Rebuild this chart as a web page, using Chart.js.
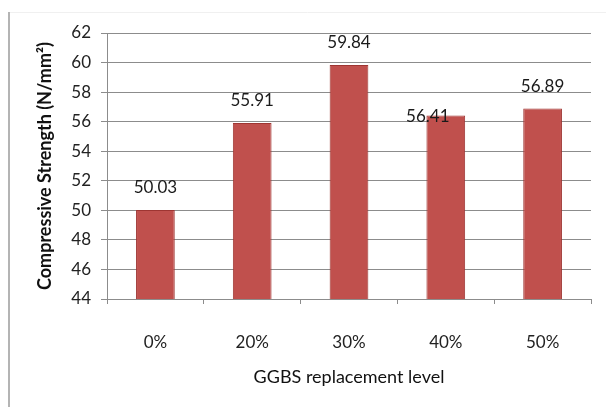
<!DOCTYPE html>
<html>
<head>
<meta charset="utf-8">
<script src="https://cdn.jsdelivr.net/npm/chart.js@4/dist/chart.umd.min.js"></script>
<style>
  html, body { margin: 0; padding: 0; background: #fff; }
  #wrap { position: relative; width: 606px; height: 407px; }
</style>
</head>
<body>
<div id="wrap"><canvas id="c" width="606" height="407"></canvas></div>
<script>
/* ── Data ─────────────────────────────────────────── */
const levels   = ['0%', '20%', '30%', '40%', '50%'];
const strength = [50.03, 55.91, 59.84, 56.41, 56.89];
const yTicks   = [44, 46, 48, 50, 52, 54, 56, 58, 60, 62];

const FONT = 'Lato, "Open Sans", sans-serif';
const GRID = '#8c8c8c';

/* ── Frame like the Excel chart border ────────────── */
const framePlugin = {
  id: 'frame',
  beforeDraw(chart) {
    const ctx = chart.ctx;
    ctx.save();
    ctx.fillStyle = '#fff';
    ctx.fillRect(0, 0, chart.width, chart.height);
    ctx.strokeStyle = '#f0f0f0';
    ctx.lineWidth = 1;
    ctx.beginPath(); ctx.moveTo(9, 12.5); ctx.lineTo(chart.width, 12.5); ctx.stroke();
    ctx.strokeStyle = '#b4b4b4';
    ctx.lineWidth = 2;
    ctx.beginPath(); ctx.moveTo(9, 12); ctx.lineTo(9, chart.height); ctx.stroke();
    ctx.restore();
  }
};

/* ── Value labels above bars ──────────────────────── */
const valuePlugin = {
  id: 'values',
  afterDatasetsDraw(chart, args, opts) {
    const ctx = chart.ctx;
    const meta = chart.getDatasetMeta(0);
    ctx.save();
    ctx.font = '17px ' + FONT;
    ctx.fillStyle = '#1a1a1a';
    ctx.textAlign = 'center';
    ctx.textBaseline = 'middle';
    meta.data.forEach((bar, i) => {
      const s = opts.shift[i] || [0, 0];
      ctx.fillText(strength[i].toFixed(2), bar.x + s[0], bar.y - 22 + s[1]);
    });
    ctx.restore();
  }
};

new Chart(document.getElementById('c'), {
  type: 'bar',
  data: {
    labels: levels,
    datasets: [{
      data: strength,
      backgroundColor: '#C0504D',
      borderColor: '#9e3532',
      borderWidth: 1,
      barPercentage: 0.40,
      categoryPercentage: 1
    }]
  },
  options: {
    responsive: false,
    animation: false,
    layout: { padding: { left: 0, right: 15, top: 33, bottom: 0 } },
    plugins: {
      legend: { display: false },
      tooltip: { enabled: false },
      values: { shift: { 3: [-18, 23] } }
    },
    scales: {
      x: {
        afterFit: s => { s.height = 108; },
        grid: { drawOnChartArea: false, color: GRID, tickLength: 5, offset: true },
        border: { color: GRID, width: 1 },
        ticks: { color: '#222', font: { family: FONT, size: 17 }, padding: 28 },
        title: {
          display: true, text: 'GGBS replacement level', color: '#111',
          font: { family: FONT, size: 18 }, padding: { top: 4, bottom: 19 }
        }
      },
      y: {
        min: 44, max: 62,
        afterFit: s => { s.width = 107; },
        afterBuildTicks: s => { s.ticks = yTicks.map(v => ({ value: v })); },
        grid: { color: GRID, tickLength: 6 },
        border: { color: GRID, width: 1 },
        ticks: { color: '#222', font: { family: FONT, size: 17 }, padding: 10 },
        title: {
          display: true, text: 'Compressive Strength (N/mm²)', color: '#111',
          font: { family: FONT, size: 18, weight: 'bold' }, padding: { top: 34, bottom: 0 }
        }
      }
    }
  },
  plugins: [framePlugin, valuePlugin]
});
</script>
</body>
</html>
